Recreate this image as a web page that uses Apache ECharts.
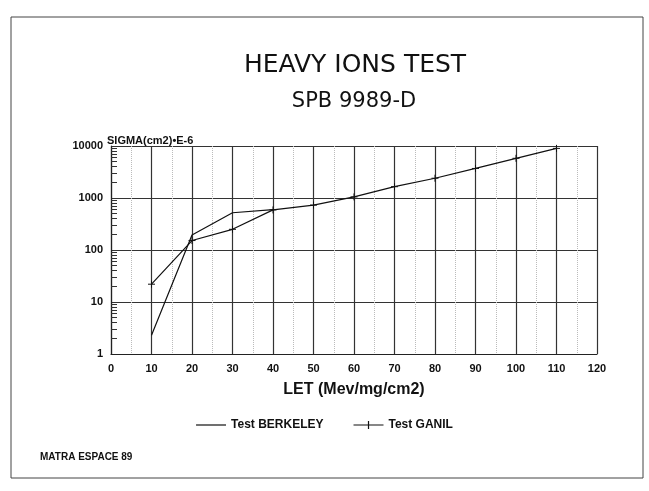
<!DOCTYPE html>
<html>
<head>
<meta charset="utf-8">
<script src="https://cdn.jsdelivr.net/npm/echarts@6/dist/echarts.min.js"></script>
<style>
  html, body { margin: 0; padding: 0; background: #fff; }
  #chart { width: 649px; height: 491px; }
</style>
</head>
<body>
<div id="chart"></div>
<script>
// LET values (Mev/mg/cm2)
var letBerkeley = [10, 20, 30, 40];
var letGanil = [10, 20, 30, 40, 50, 60, 70, 80, 90, 100, 110];
// cross section, SIGMA(cm2)*E-6
var sigmaBerkeley = [2.3, 195, 520, 600];
var sigmaGanil = [22, 152, 250, 590, 730, 1050, 1650, 2400, 3700, 5800, 9000];

function pairs(xs, ys) {
    return xs.map(function (x, i) { return [x, ys[i]]; });
}

var plusSymbol = 'path://M0,-5L0,5M-5,0L5,0';
var labelFont = 'Liberation Sans';
// legend icons: plain line, line with a cross
var lineIcon = 'path://M0,4.4L30,4.4L30,5.6L0,5.6Z';
var plusIcon = 'path://M0,4.4L30,4.4L30,5.6L0,5.6ZM14.4,1L15.6,1L15.6,9L14.4,9Z';

var chart = echarts.init(document.getElementById('chart'));
chart.setOption({
    animation: false,
    backgroundColor: '#fff',
    title: [
        {
            text: 'HEAVY IONS TEST',
            left: 350, top: 48, textAlign: 'center',
            textStyle: {fontFamily: 'DejaVu Sans', fontSize: 25, fontWeight: 'normal', color: '#111'}
        },
        {
            text: 'SPB 9989-D',
            left: 349, top: 86, textAlign: 'center',
            textStyle: {fontFamily: 'DejaVu Sans', fontSize: 21, fontWeight: 'normal', color: '#111'}
        }
    ],
    graphic: [
        {
            type: 'rect',
            shape: {x: 11, y: 17, width: 632, height: 461},
            style: {fill: 'none', stroke: '#444', lineWidth: 1}
        },
        {
            type: 'text', left: 107, top: 135,
            style: {text: 'SIGMA(cm2)\u2022E-6', font: 'bold 11px "Liberation Sans"', fill: '#111'}
        },
        {
            type: 'text', left: 40, top: 452,
            style: {text: 'MATRA ESPACE 89', font: 'bold 10px "Liberation Sans"', fill: '#111'}
        }
    ],
    legend: {
        top: 414, left: 'center',
        itemWidth: 30, itemHeight: 10, itemGap: 30,
        textStyle: {fontFamily: labelFont, fontWeight: 'bold', fontSize: 12, color: '#111'},
        data: [
            {name: 'Test BERKELEY', icon: lineIcon, itemStyle: {color: '#111', borderWidth: 0}},
            {name: 'Test GANIL', icon: plusIcon, itemStyle: {color: '#111', borderWidth: 0}}
        ]
    },
    grid: {left: 111, right: 52, top: 146, bottom: 137},
    xAxis: {
        type: 'value',
        min: 0, max: 120, interval: 10,
        name: 'LET (Mev/mg/cm2)',
        nameLocation: 'middle', nameGap: 28,
        nameTextStyle: {fontFamily: labelFont, fontWeight: 'bold', fontSize: 16, color: '#111'},
        axisLine: {lineStyle: {color: '#222', width: 1.2}},
        axisTick: {show: false},
        axisLabel: {fontFamily: labelFont, fontWeight: 'bold', fontSize: 11, color: '#111', margin: 9},
        splitLine: {show: true, lineStyle: {color: '#333', width: 1.2}},
        minorSplitLine: {show: true, lineStyle: {color: '#bbb', type: 'dotted'}},
        minorTick: {show: false, splitNumber: 2}
    },
    yAxis: {
        type: 'log', logBase: 10,
        min: 1, max: 10000,
        axisLine: {show: true, lineStyle: {color: '#222', width: 1.2}},
        axisTick: {show: false, inside: true},
        minorTick: {show: true, splitNumber: 9, length: 6, lineStyle: {color: '#333'}},
        axisLabel: {
            fontFamily: labelFont, fontWeight: 'bold', fontSize: 11, color: '#111', margin: 8,
            formatter: function (v) { return String(Math.round(v)); }
        },
        splitLine: {show: true, lineStyle: {color: '#333', width: 1.2}},
        minorSplitLine: {show: false}
    },
    series: [
        {
            name: 'Test BERKELEY',
            type: 'line',
            data: pairs(letBerkeley, sigmaBerkeley),
            showSymbol: false,
            symbol: 'none',
            lineStyle: {color: '#111', width: 1.2},
            itemStyle: {color: '#111'}
        },
        {
            name: 'Test GANIL',
            type: 'line',
            data: pairs(letGanil, sigmaGanil),
            symbol: plusSymbol,
            symbolSize: 7,
            lineStyle: {color: '#111', width: 1.2},
            itemStyle: {color: 'none', borderColor: '#111', borderWidth: 1}
        }
    ]
});
</script>
</body>
</html>
